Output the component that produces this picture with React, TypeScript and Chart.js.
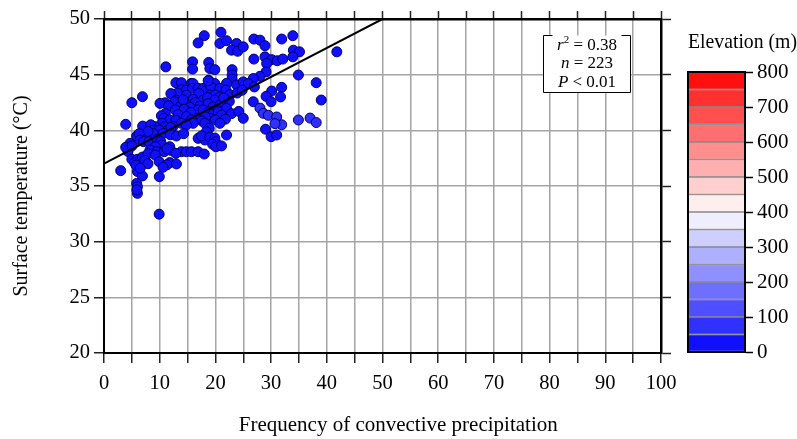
import React, { useEffect, useRef } from 'react';
import { Chart, registerables } from 'chart.js';
Chart.register(...registerables);

const FONT = "'Liberation Serif', 'Times New Roman', serif";

// Frequency of convective precipitation (x) for each station
const freqValues = [
  21.0, 18.0, 16.9, 20.8, 22.0, 23.8, 22.9, 24.0, 25.0, 26.9,
  28.0, 28.9, 31.9, 33.9, 34.0, 35.1, 28.9, 30.1, 31.1, 32.1,
  33.9, 26.9, 41.8, 15.9, 18.8, 29.2, 15.9, 19.0, 19.9, 11.1,
  23.0, 23.0, 23.0, 29.1, 34.9, 28.0, 26.8, 18.8, 12.9, 13.9,
  15.7, 16.0, 19.9, 22.0, 23.8, 25.0, 25.9, 38.1, 13.9, 14.8,
  13.2, 15.9, 16.9, 17.8, 18.3, 19.2, 18.7, 20.8, 21.9, 22.6,
  23.9, 31.9, 30.1, 14.8, 19.0, 20.0, 29.1, 31.7, 20.8, 6.9,
  12.0, 17.0, 24.8, 27.0, 13.0, 16.0, 17.8, 18.6, 19.9, 12.7,
  11.0, 26.8, 30.0, 39.0, 5.0, 10.05, 11.6, 13.6, 14.7, 16.4,
  17.2, 18.7, 19.6, 20.8, 15.5, 14.2, 28.0, 20.3, 22.5, 21.5,
  16.9, 17.8, 18.9, 12.8, 14.4, 11.0, 13.3, 15.6, 19.5, 20.5,
  22.0, 10.3, 28.6, 29.5, 22.9, 24.2, 21.1, 21.8, 31.0, 34.9,
  37.0, 25.0, 10.8, 14.8, 16.9, 19.0, 11.8, 20.0, 18.2, 17.6,
  12.9, 15.7, 38.1, 31.9, 30.7, 13.9, 16.0, 18.1, 20.8, 14.8,
  10.4, 12.4, 3.9, 7.5, 6.94, 9.2, 8.4, 10.95, 18.9, 29.0,
  8.9, 9.9, 11.3, 12.0, 8.85, 5.86, 7.36, 10.65, 11.9, 13.0,
  14.3, 7.9, 18.4, 22.0, 30.0, 31.0, 6.3, 16.9, 18.1, 17.5,
  19.0, 19.9, 6.46, 7.1, 8.1, 9.6, 10.2, 20.0, 19.5, 4.67,
  4.3, 3.9, 5.0, 10.35, 11.8, 9.2, 20.1, 21.1, 8.26, 9.45,
  10.8, 12.0, 13.9, 14.8, 15.7, 16.9, 18.0, 12.9, 11.3, 5.0,
  6.0, 6.9, 7.9, 9.2, 5.5, 7.3, 9.9, 7.9, 11.8, 13.0,
  11.3, 10.6, 3.0, 6.0, 6.9, 5.74, 9.93, 5.86, 6.0, 6.0,
  9.9, 5.9, 6.5,
];

// Surface temperature (°C) for each station
const tempValues = [
  48.8, 48.5, 47.85, 47.8, 48.05, 47.8, 47.2, 47.1, 47.5, 48.2,
  48.1, 47.6, 48.2, 48.5, 47.2, 47.05, 46.6, 46.35, 46.25, 46.4,
  46.6, 46.4, 47.05, 46.15, 46.1, 46.0, 45.5, 45.55, 45.45, 45.7,
  45.45, 44.97, 44.6, 45.25, 44.97, 44.85, 44.65, 44.5, 44.28, 44.28,
  44.22, 44.2, 44.2, 44.22, 44.07, 44.35, 44.2, 44.28, 43.65, 43.6,
  43.35, 43.77, 43.77, 43.77, 43.55, 43.9, 44.46, 43.77, 43.62, 43.2,
  43.35, 43.86, 43.53, 43.15, 43.17, 43.17, 43.05, 43.0, 43.0, 43.02,
  43.3, 43.3, 43.6, 43.9, 42.72, 42.78, 42.72, 42.95, 42.72, 42.57,
  42.48, 42.57, 42.57, 42.72, 42.48, 42.42, 42.2, 42.1, 42.36, 42.5,
  42.18, 42.4, 42.1, 42.27, 42.05, 42.75, 42.0, 41.85, 42.6, 42.9,
  41.83, 41.83, 41.68, 41.83, 41.9, 41.52, 41.4, 41.6, 41.4, 41.67,
  41.97, 41.3, 41.53, 41.35, 41.5, 41.7, 41.38, 41.0, 41.2, 40.93,
  41.1, 41.08, 41.08, 41.23, 41.08, 41.08, 40.93, 40.93, 41.2, 40.85,
  40.9, 40.95, 40.7, 40.5, 40.6, 40.63, 40.63, 40.63, 40.63, 40.48,
  40.63, 40.35, 40.54, 40.1, 40.38, 40.33, 40.5, 40.32, 40.18, 40.1,
  40.03, 40.03, 39.95, 40.25, 39.72, 39.48, 39.57, 39.72, 39.6, 39.49,
  39.7, 39.9, 39.88, 39.58, 39.43, 39.58, 39.7, 39.28, 39.13, 39.5,
  39.4, 39.3, 39.13, 38.98, 38.98, 39.2, 38.98, 38.98, 38.75, 38.83,
  38.1, 38.47, 38.59, 38.68, 38.53, 38.53, 38.53, 38.6, 38.23, 38.08,
  38.08, 38.2, 38.08, 38.08, 38.08, 38.08, 37.87, 37.93, 38.35, 37.4,
  37.4, 37.6, 37.9, 37.78, 37.1, 37.3, 37.19, 37.0, 37.1, 36.98,
  36.9, 36.68, 36.38, 36.3, 35.9, 36.88, 35.84, 35.23, 34.94, 34.34,
  32.47, 34.65, 36.6,
];

// Station elevation (m), sets the point colour
const elevValues = [
  20, 20, 20, 20, 20, 20, 20, 20, 20, 20,
  20, 20, 20, 20, 20, 20, 20, 20, 20, 20,
  20, 20, 20, 20, 20, 20, 20, 20, 20, 20,
  20, 20, 20, 20, 20, 20, 20, 20, 20, 20,
  20, 20, 20, 20, 20, 20, 20, 20, 20, 20,
  20, 20, 20, 20, 20, 20, 20, 20, 20, 20,
  20, 20, 20, 20, 20, 20, 20, 20, 20, 20,
  20, 20, 20, 20, 20, 20, 20, 20, 20, 20,
  20, 20, 20, 20, 20, 20, 20, 20, 20, 20,
  20, 20, 20, 20, 20, 20, 80, 20, 20, 20,
  20, 20, 20, 20, 20, 20, 20, 20, 20, 20,
  20, 20, 80, 80, 20, 20, 20, 20, 80, 60,
  80, 20, 20, 20, 20, 20, 20, 20, 20, 20,
  20, 20, 60, 80, 80, 20, 20, 20, 20, 20,
  20, 20, 20, 20, 20, 20, 20, 20, 20, 20,
  20, 20, 20, 20, 20, 20, 20, 20, 20, 20,
  20, 20, 20, 20, 20, 20, 20, 20, 20, 20,
  20, 20, 20, 20, 20, 20, 20, 20, 20, 20,
  20, 20, 20, 20, 20, 20, 20, 20, 20, 20,
  20, 20, 20, 20, 20, 20, 20, 20, 20, 20,
  20, 20, 20, 20, 20, 20, 20, 20, 20, 20,
  20, 20, 20, 20, 20, 20, 20, 20, 20, 20,
  20, 20, 20,
];

// Regression line end points
const fitFreq = [0, 50];
const fitTemp = [37.0, 50.0];

// Colour bar bands (lower bound of each 50 m band)
const elevBands = [0, 50, 100, 150, 200, 250, 300, 350, 400, 450, 500, 550, 600, 650, 700, 750];
const bandStep = 50;

// Statistics annotation
const statR2 = '0.38';
const statN = '223';
const statP = '0.01';

function colorFor(elev: number): string {
  const band = Math.max(0, Math.min(15, Math.floor(elev / 50)));
  if (band < 8) {
    const v = Math.round(16 + 31.7 * band);
    return `rgb(${v},${v},255)`;
  }
  const v = Math.round(16 + 31.7 * (15 - band));
  return `rgb(255,${v},${v})`;
}

type Part = { text: string; italic?: boolean; sup?: boolean };

function drawRich(ctx: CanvasRenderingContext2D, parts: Part[], cx: number, cy: number, size: number) {
  const fontOf = (p: Part) => `${p.italic ? 'italic ' : ''}${p.sup ? Math.round(size * 0.62) : size}px ${FONT}`;
  let total = 0;
  for (const p of parts) {
    ctx.font = fontOf(p);
    total += ctx.measureText(p.text).width;
  }
  let x = cx - total / 2;
  ctx.textBaseline = 'alphabetic';
  ctx.textAlign = 'left';
  for (const p of parts) {
    ctx.font = fontOf(p);
    ctx.fillText(p.text, x, cy + size * 0.33 - (p.sup ? size * 0.4 : 0));
    x += ctx.measureText(p.text).width;
  }
}

const statsBox = {
  id: 'statsBox',
  afterDatasetsDraw(chart: any) {
    const { ctx, scales } = chart;
    const xs = scales.x;
    const ys = scales.y;
    const l = Math.round(xs.getPixelForValue(78.8)) + 0.5;
    const r = Math.round(xs.getPixelForValue(94.4)) + 0.5;
    const t = Math.round(ys.getPixelForValue(48.6)) + 0.5;
    const b = Math.round(ys.getPixelForValue(43.45)) + 0.5;
    ctx.save();
    ctx.fillStyle = '#fff';
    ctx.fillRect(l, t, r - l, b - t);
    ctx.strokeStyle = '#000';
    ctx.lineWidth = 1;
    ctx.beginPath();
    ctx.moveTo(l + 9, t);
    ctx.lineTo(l, t);
    ctx.lineTo(l, b);
    ctx.lineTo(r, b);
    ctx.lineTo(r, t);
    ctx.lineTo(r - 9, t);
    ctx.stroke();
    ctx.fillStyle = '#000';
    const cx = (l + r) / 2;
    const size = 17;
    drawRich(ctx, [{ text: 'r', italic: true }, { text: '2', sup: true }, { text: ' = ' + statR2 }], cx, t + 9, size);
    drawRich(ctx, [{ text: 'n', italic: true }, { text: ' = ' + statN }], cx, t + 27, size);
    drawRich(ctx, [{ text: 'P', italic: true }, { text: ' < ' + statP }], cx, t + 45.5, size);
    ctx.restore();
  },
};

const frame = {
  id: 'frame',
  afterDatasetsDraw(chart: any) {
    const { ctx, chartArea } = chart;
    ctx.save();
    ctx.strokeStyle = '#000';
    ctx.lineWidth = 2;
    ctx.strokeRect(chartArea.left, chartArea.top, chartArea.right - chartArea.left, chartArea.bottom - chartArea.top);
    ctx.restore();
  },
};

export default function App() {
  const mainRef = useRef<HTMLCanvasElement>(null);
  const barRef = useRef<HTMLCanvasElement>(null);

  useEffect(() => {
    Chart.defaults.font.family = FONT;
    Chart.defaults.color = '#000';

    const points = freqValues.map((x, i) => ({ x, y: tempValues[i] }));
    const fit = fitFreq.map((x, i) => ({ x, y: fitTemp[i] }));

    const main = new Chart(mainRef.current!, {
      type: 'scatter',
      data: {
        datasets: [
          {
            type: 'line',
            data: fit,
            borderColor: '#000',
            borderWidth: 2,
            pointRadius: 0,
            fill: false,
          } as any,
          {
            type: 'scatter',
            data: points,
            pointBackgroundColor: elevValues.map(colorFor),
            pointBorderColor: '#00006a',
            pointBorderWidth: 1,
            pointRadius: 5,
          } as any,
        ],
      },
      options: {
        animation: false,
        responsive: false,
        layout: { padding: { left: 0, top: 11, right: 126, bottom: 0 } },
        plugins: { legend: { display: false }, tooltip: { enabled: false } },
        scales: {
          x: {
            type: 'linear',
            position: 'bottom',
            min: 0,
            max: 100,
            ticks: {
              stepSize: 5,
              autoSkip: false,
              maxRotation: 0,
              padding: 8,
              color: '#000',
              font: { size: 20.5 },
              callback: (v: any) => (Number(v) % 10 === 0 ? String(v) : ''),
            },
            grid: { color: '#a4a4a4', lineWidth: 1.5, tickColor: '#222', tickLength: 10, tickWidth: 1.5 },
            border: { color: '#000', width: 2 },
            title: {
              display: true,
              text: '\u00a0\u00a0\u00a0\u00a0\u00a0\u00a0Frequency of convective precipitation',
              color: '#000',
              font: { size: 21 },
              padding: { top: 0, bottom: 1 },
            },
            afterFit: (s: any) => { s.height = 86; },
          },
          x2: {
            type: 'linear',
            position: 'top',
            min: 0,
            max: 100,
            ticks: { display: false, stepSize: 5, autoSkip: false },
            grid: { drawOnChartArea: false, tickColor: '#222', tickLength: 8, tickWidth: 1.5 },
            border: { color: '#000', width: 2.5 },
            afterFit: (s: any) => { s.height = 8; },
          },
          y: {
            type: 'linear',
            position: 'left',
            min: 20,
            max: 50,
            ticks: { stepSize: 5, padding: 4, color: '#000', font: { size: 20.5 } },
            grid: { color: '#a4a4a4', lineWidth: 1.5, tickColor: '#222', tickLength: 10, tickWidth: 1.5 },
            border: { color: '#000', width: 2 },
            title: {
              display: true,
              text: 'Surface temperature (°C)\u00a0\u00a0\u00a0\u00a0',
              color: '#000',
              font: { size: 20 },
              padding: { top: 10, bottom: 0 },
            },
            afterFit: (s: any) => { s.width = 104; },
          },
          y2: {
            type: 'linear',
            position: 'right',
            min: 20,
            max: 50,
            ticks: { display: false, stepSize: 5 },
            grid: { drawOnChartArea: false, tickColor: '#222', tickLength: 10, tickWidth: 1.5 },
            border: { color: '#000', width: 2.5 },
            afterFit: (s: any) => { s.width = 10; },
          },
        },
      } as any,
      plugins: [statsBox],
    });

    const bar = new Chart(barRef.current!, {
      type: 'bar',
      data: {
        labels: [''],
        datasets: elevBands.map((b) => ({
          data: [bandStep],
          backgroundColor: colorFor(b),
          borderColor: 'rgba(50,50,50,0.55)',
          borderWidth: 1,
          borderSkipped: false,
          barPercentage: 1,
          categoryPercentage: 1,
        })) as any,
      },
      options: {
        animation: false,
        responsive: false,
        layout: { padding: { left: 28, right: 0, top: 0, bottom: 87 } },
        plugins: {
          legend: { display: false },
          tooltip: { enabled: false },
          title: {
            display: true,
            text: 'Elevation (m)',
            align: 'end',
            color: '#000',
            font: { size: 21, weight: 'normal' },
            padding: { top: 30, bottom: 16.8 },
          },
        },
        scales: {
          x: { display: false, stacked: true },
          y: {
            position: 'right',
            stacked: true,
            min: 0,
            max: 800,
            ticks: { stepSize: 100, padding: 4, color: '#000', font: { size: 21 } },
            grid: { drawOnChartArea: false, tickLength: 8, tickColor: '#000', tickWidth: 1.5 },
            border: { color: '#000', width: 2 },
            afterFit: (s: any) => { s.width = 52; },
          },
        },
      } as any,
      plugins: [frame],
    });

    return () => {
      main.destroy();
      bar.destroy();
    };
  }, []);

  return (
    <div style={{ position: 'absolute', left: 0, top: 0, width: 797, height: 439, background: '#fff' }}>
      <canvas ref={mainRef} width={797} height={439} style={{ position: 'absolute', left: 0, top: 0, width: 797, height: 439 }} />
      <canvas ref={barRef} width={137} height={439} style={{ position: 'absolute', left: 660, top: 0, width: 137, height: 439 }} />
    </div>
  );
}
